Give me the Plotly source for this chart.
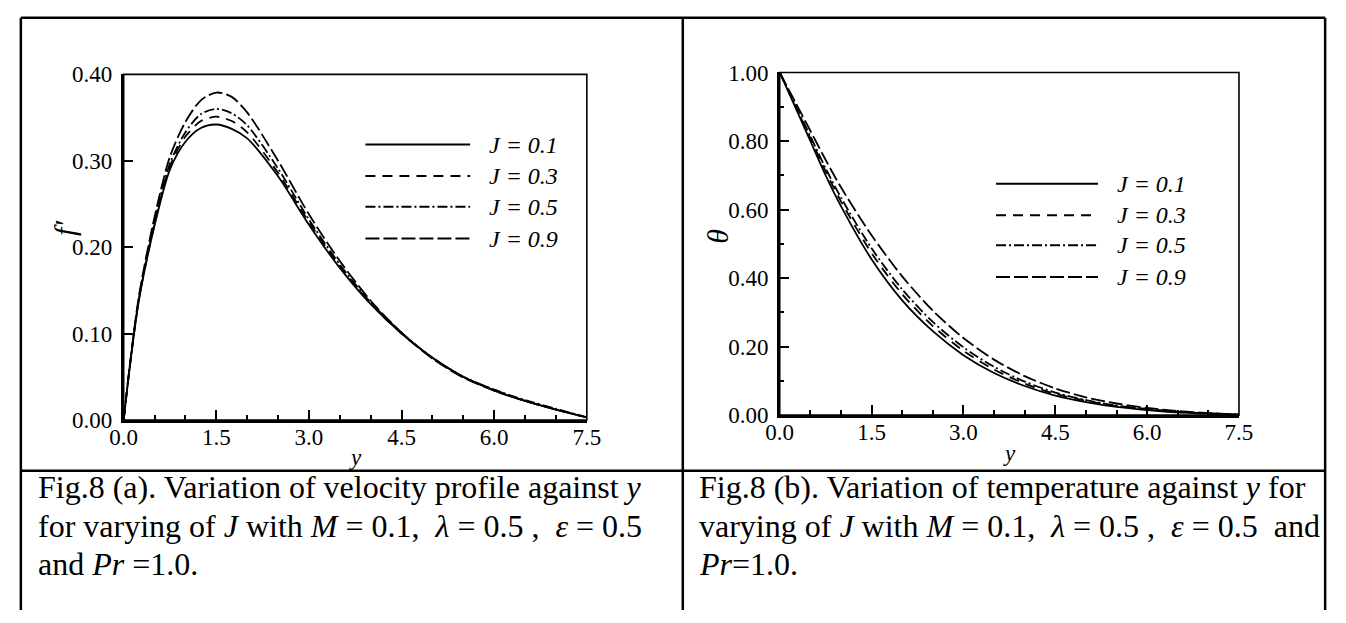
import plotly.graph_objects as go

# ---------------- data ----------------
eta = [0, 0.1, 0.25, 0.5, 0.75, 1.0, 1.25, 1.5, 1.75, 2.0, 2.5, 3.0, 3.5, 4.0, 4.5, 5.0, 5.5, 6.0, 6.5, 7.0, 7.5]

vel_J01 = [0, 0.062, 0.140, 0.225, 0.290, 0.322, 0.338, 0.342, 0.337, 0.326, 0.282, 0.226, 0.176, 0.134, 0.100, 0.072, 0.050, 0.034, 0.022, 0.012, 0.003]
vel_J03 = [0, 0.062, 0.141, 0.227, 0.294, 0.328, 0.346, 0.351, 0.346, 0.333, 0.286, 0.229, 0.178, 0.135, 0.100, 0.072, 0.050, 0.035, 0.022, 0.012, 0.003]
vel_J05 = [0, 0.063, 0.142, 0.230, 0.297, 0.333, 0.354, 0.360, 0.355, 0.341, 0.291, 0.232, 0.180, 0.136, 0.101, 0.072, 0.050, 0.035, 0.023, 0.013, 0.003]
vel_J09 = [0, 0.064, 0.145, 0.235, 0.305, 0.345, 0.370, 0.379, 0.374, 0.356, 0.300, 0.238, 0.184, 0.138, 0.101, 0.071, 0.049, 0.034, 0.022, 0.012, 0.003]

eta_t = [0, 0.25, 0.5, 0.75, 1.0, 1.5, 2.0, 2.5, 3.0, 3.5, 4.0, 4.5, 5.0, 5.5, 6.0, 6.5, 7.0, 7.5]
tem_J01 = [1.0, 0.900, 0.800, 0.700, 0.610, 0.455, 0.335, 0.245, 0.175, 0.123, 0.085, 0.057, 0.038, 0.024, 0.015, 0.008, 0.004, 0.001]
tem_J03 = [1.0, 0.904, 0.808, 0.711, 0.624, 0.473, 0.353, 0.260, 0.188, 0.133, 0.092, 0.062, 0.042, 0.027, 0.017, 0.009, 0.005, 0.001]
tem_J05 = [1.0, 0.907, 0.814, 0.720, 0.635, 0.487, 0.367, 0.272, 0.198, 0.141, 0.098, 0.066, 0.044, 0.028, 0.018, 0.010, 0.005, 0.001]
tem_J09 = [1.0, 0.915, 0.830, 0.745, 0.665, 0.525, 0.405, 0.305, 0.225, 0.162, 0.114, 0.078, 0.052, 0.034, 0.021, 0.012, 0.006, 0.002]

labels = ["J = 0.1", "J = 0.3", "J = 0.5", "J = 0.9"]
x_ticks = [0.0, 1.5, 3.0, 4.5, 6.0, 7.5]

captions_a = [
    "Fig.8 (a). Variation of velocity profile against <i>y</i>",
    "for varying of <i>J</i> with <i>M</i> = 0.1,\u00a0 <i>λ</i> = 0.5 ,\u00a0 <i>ε</i> = 0.5",
    "and <i>Pr</i> =1.0.",
]
captions_b = [
    "Fig.8 (b). Variation of temperature against <i>y</i> for",
    "varying of <i>J</i> with <i>M</i> = 0.1,\u00a0 <i>λ</i> = 0.5 ,\u00a0 <i>ε</i> = 0.5\u00a0 and",
    "<i>Pr</i>=1.0.",
]

# ---------------- styles ----------------
dashes = ["solid", "10px,7px", "10px,3px,2px,3px", "14px,4px"]
SERIF = "Liberation Serif"
W, H = 1346, 623

def px_x(p):
    return p / W

def px_y(p):
    return 1 - p / H

fig = go.Figure()

vel = [vel_J01, vel_J03, vel_J05, vel_J09]
tem = [tem_J01, tem_J03, tem_J05, tem_J09]
for i in range(4):
    fig.add_trace(go.Scatter(x=eta, y=vel[i], mode="lines", name=labels[i],
                             line=dict(color="black", width=1.8, dash=dashes[i], shape="spline", smoothing=0.8),
                             xaxis="x", yaxis="y", showlegend=False))
    fig.add_trace(go.Scatter(x=eta_t, y=tem[i], mode="lines", name=labels[i],
                             line=dict(color="black", width=1.8, dash=dashes[i], shape="spline", smoothing=0.8),
                             xaxis="x2", yaxis="y2", showlegend=False))

axis_common = dict(showgrid=False, zeroline=False, showline=True, linecolor="black",
                   linewidth=2.5, mirror=False, ticks="inside", ticklen=10, tickwidth=2,
                   tickcolor="black", tickfont=dict(family=SERIF, size=23, color="black"))
minor_x = dict(dtick=0.5, ticks="inside", ticklen=5, tickwidth=1.5, tickcolor="black")

fig.update_layout(
    width=W, height=H, margin=dict(l=0, r=0, t=0, b=0),
    paper_bgcolor="white", plot_bgcolor="white",
    font=dict(family=SERIF, color="black"),
    xaxis=dict(domain=[px_x(112), px_x(585)], range=[0, 7.5], tickvals=x_ticks, tickformat=".1f",
               minor=minor_x, anchor="y", ticklabelstandoff=-5, **axis_common),
    yaxis=dict(domain=[px_y(425), px_y(65)], range=[0, 0.4], dtick=0.1, tickformat=".2f",
               anchor="x", ticklabelstandoff=4, **axis_common),
    xaxis2=dict(domain=[px_x(782), px_x(1251)], range=[0, 7.5], tickvals=x_ticks, tickformat=".1f",
                minor=minor_x, anchor="y2", ticklabelstandoff=-5, **axis_common),
    yaxis2=dict(domain=[px_y(420), px_y(63)], range=[0, 1.0], dtick=0.2, tickformat=".2f",
                minor=dict(dtick=0.1, ticks="inside", ticklen=5, tickwidth=1.5, tickcolor="black"),
                anchor="x2", ticklabelstandoff=4, **axis_common),
)

shapes = []
# plot frames (thin top/right)
for xr, yr in (("x domain", "y domain"), ("x2 domain", "y2 domain")):
    shapes.append(dict(type="rect", xref=xr, yref=yr, x0=0, x1=1, y0=0, y1=1,
                       line=dict(color="black", width=1.6), layer="below"))

# table border lines
tbl = dict(color="black", width=2.5)
shapes += [
    dict(type="line", xref="paper", yref="paper", x0=px_x(7), x1=px_x(1339), y0=px_y(6), y1=px_y(6), line=tbl),
    dict(type="line", xref="paper", yref="paper", x0=px_x(7), x1=px_x(7), y0=px_y(6), y1=0, line=tbl),
    dict(type="line", xref="paper", yref="paper", x0=px_x(683), x1=px_x(683), y0=px_y(6), y1=0, line=tbl),
    dict(type="line", xref="paper", yref="paper", x0=px_x(1339), x1=px_x(1339), y0=px_y(6), y1=0, line=tbl),
    dict(type="line", xref="paper", yref="paper", x0=px_x(7), x1=px_x(1339), y0=px_y(478), y1=px_y(478), line=tbl),
]

annotations = []
# legends
leg_specs = [
    ("x domain", "y domain", [0.797, 0.706, 0.617, 0.525], 0.522, 0.748, 0.784),
    ("x2 domain", "y2 domain", [0.675, 0.583, 0.496, 0.403], 0.471, 0.693, 0.731),
]
for xr, yr, rows, lx0, lx1, tx in leg_specs:
    for i, ry in enumerate(rows):
        shapes.append(dict(type="line", xref=xr, yref=yr, x0=lx0, x1=lx1, y0=ry, y1=ry,
                           line=dict(color="black", width=2, dash=dashes[i])))
        annotations.append(dict(xref=xr, yref=yr, x=tx, y=ry, xanchor="left", yanchor="middle",
                                text="<i>" + labels[i] + "</i>", showarrow=False,
                                font=dict(family=SERIF, size=24, color="black")))

# axis titles
annotations += [
    dict(xref="paper", yref="paper", x=px_x(52), y=px_y(225), text="<i>f\u2032</i>", textangle=-90,
         showarrow=False, font=dict(family=SERIF, size=30, color="black"), xanchor="center", yanchor="middle"),
    dict(xref="paper", yref="paper", x=px_x(349), y=px_y(450), text="<i>y</i>", borderpad=0,
         showarrow=False, font=dict(family=SERIF, size=23, color="black"), xanchor="center", yanchor="top"),
    dict(xref="paper", yref="paper", x=px_x(719), y=px_y(234), text="<i>θ</i>", textangle=-90,
         showarrow=False, font=dict(family=SERIF, size=30, color="black"), xanchor="center", yanchor="middle"),
    dict(xref="paper", yref="paper", x=px_x(1017), y=px_y(446), text="<i>y</i>", borderpad=0,
         showarrow=False, font=dict(family=SERIF, size=23, color="black"), xanchor="center", yanchor="top"),
]

# captions
cap_y = [495, 535, 575]
for caps, x0 in ((captions_a, 22), (captions_b, 698)):
    for line, yy in zip(caps, cap_y):
        annotations.append(dict(xref="paper", yref="paper", x=px_x(x0), y=px_y(yy), text=line,
                                xanchor="left", yanchor="middle", showarrow=False,
                                font=dict(family=SERIF, size=32, color="black")))

fig.update_layout(shapes=shapes, annotations=annotations)
fig.write_html("out.html")
